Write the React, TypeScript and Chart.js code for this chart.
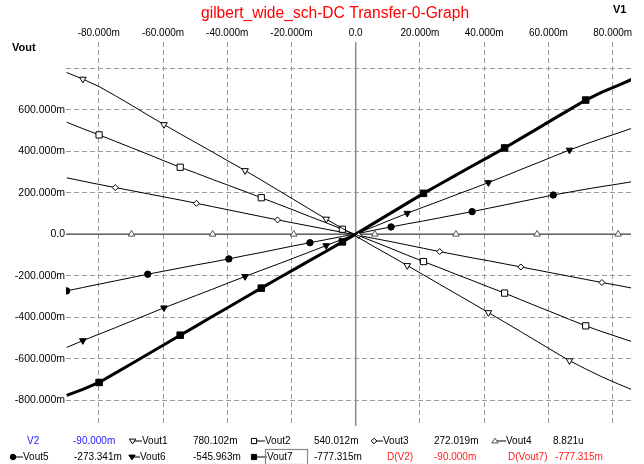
import React, { useEffect, useRef } from 'react';
import { Chart, registerables } from 'chart.js';

Chart.register(...registerables);

const TITLE = 'gilbert_wide_sch-DC Transfer-0-Graph';
const X_AXIS_NAME = 'V1';
const Y_AXIS_NAME = 'Vout';
const SWEEP_NAME = 'V2';

// sweep values (mV)
const V2 = [
  -90, -84.95, -79.9, -74.85, -69.8, -64.75, -59.7, -54.65, -49.6, -44.55,
  -39.5, -34.45, -29.4, -24.35, -19.3, -14.25, -9.2, -4.15, 0.9, 5.95,
  11, 16.05, 21.1, 26.15, 31.2, 36.25, 41.3, 46.35, 51.4, 56.45,
  61.5, 66.55, 71.6, 76.65, 81.7, 86,
];

// outputs (mV)
const VOUT1 = [
  780.102, 748, 712, 668, 622, 575, 529, 484, 440, 396,
  351, 307, 261, 214, 167, 120, 73, 28, -17, -62,
  -106, -151, -196, -242, -287, -332, -378, -424, -470, -517,
  -564, -610, -650, -688, -722, -750,
];
const VOUT2 = [
  540.012, 509, 479, 448, 417, 386, 354, 323, 294, 264,
  235, 206, 176, 146, 116, 85, 55, 24, -7, -38,
  -69, -101, -132, -162, -193, -223, -254, -284, -316, -348,
  -379, -411, -442, -470, -496, -518,
];
const VOUT3 = [
  272.019, 256, 240, 225, 210, 195, 180, 165, 149, 133,
  117, 101, 85, 69, 54, 39, 24, 9, -6, -21,
  -36, -52, -68, -84, -99, -114, -128, -143, -158, -173,
  -188, -203, -218, -233, -247, -260,
];
const VOUT4 = [
  0.008821, 0.0085, 0.008, 0.0075, 0.007, 0.0065, 0.006, 0.0055, 0.005, 0.0045,
  0.004, 0.0035, 0.003, 0.0025, 0.002, 0.0015, 0.001, 0.0005, 0, -0.0005,
  -0.001, -0.0015, -0.002, -0.0025, -0.003, -0.0035, -0.004, -0.0045, -0.005, -0.0055,
  -0.006, -0.0065, -0.007, -0.0075, -0.008, -0.0085,
];
const VOUT5 = [
  -273.341, -257, -241, -225, -209, -193, -178, -163, -148, -134,
  -119, -103, -88, -72, -56, -41, -26, -11, 4, 20,
  35, 50, 64, 79, 94, 109, 125, 141, 157, 173,
  189, 203, 217, 230, 242, 253,
];
const VOUT6 = [
  -545.963, -513, -482, -451, -419, -387, -355, -325, -295, -265,
  -234, -204, -174, -145, -115, -85, -55, -24, 7, 38,
  70, 101, 131, 160, 190, 219, 249, 280, 312, 343,
  375, 406, 435, 462, 488, 511,
];
const VOUT7 = [
  -777.315, -748, -715, -670, -625, -579, -533, -487, -442, -396,
  -351, -305, -260, -215, -171, -126, -82, -37, 9, 56,
  103, 150, 197, 241, 285, 329, 372, 416, 462, 508,
  555, 601, 647, 685, 718, 747,
];

const SERIES_NAMES = ['Vout1', 'Vout2', 'Vout3', 'Vout4', 'Vout5', 'Vout6', 'Vout7'];
const SERIES_VALUES = [VOUT1, VOUT2, VOUT3, VOUT4, VOUT5, VOUT6, VOUT7];

const X_TICKS = [-80, -60, -40, -20, 0, 20, 40, 60, 80];
const X_TICK_LABELS = ['-80.000m', '-60.000m', '-40.000m', '-20.000m', '0.0', '20.000m', '40.000m', '60.000m', '80.000m'];
const Y_TICKS = [-800, -600, -400, -200, 0, 200, 400, 600, 800];
const Y_TICK_LABELS = ['-800.000m', '-600.000m', '-400.000m', '-200.000m', '0.0', '200.000m', '400.000m', '600.000m', ''];

// marker styling per series
type MStyle = { shape: string; rot: number; filled: boolean; r: number; offset: number; width: number; color: string };
const STYLES: MStyle[] = [
  { shape: 'triangle', rot: 180, filled: false, r: 3.8, offset: 1, width: 1, color: '#000' },
  { shape: 'rect', rot: 0, filled: false, r: 4.4, offset: 2, width: 1, color: '#000' },
  { shape: 'rectRot', rot: 0, filled: false, r: 3, offset: 3, width: 1, color: '#000' },
  { shape: 'triangle', rot: 0, filled: false, r: 3.8, offset: 4, width: 1, color: '#555' },
  { shape: 'circle', rot: 0, filled: true, r: 3.2, offset: 0, width: 1, color: '#000' },
  { shape: 'triangle', rot: 180, filled: true, r: 3.8, offset: 1, width: 1, color: '#000' },
  { shape: 'rect', rot: 0, filled: true, r: 4.6, offset: 2, width: 3, color: '#000' },
];

const FONT = '"Liberation Sans", Arial, Helvetica, sans-serif';

const fmt = (v: number) => (Math.abs(v) >= 1 ? v.toFixed(3) + 'm' : (v * 1000).toFixed(3) + 'u');

function drawMarker(ctx: CanvasRenderingContext2D, s: MStyle, x: number, y: number) {
  ctx.save();
  ctx.beginPath();
  const r = 3.2;
  if (s.shape === 'triangle') {
    const dir = s.rot === 180 ? 1 : -1;
    ctx.moveTo(x - r, y - dir * r * 0.6);
    ctx.lineTo(x + r, y - dir * r * 0.6);
    ctx.lineTo(x, y + dir * r * 0.9);
    ctx.closePath();
  } else if (s.shape === 'rect') {
    ctx.rect(x - 2.6, y - 2.6, 5.2, 5.2);
  } else if (s.shape === 'rectRot') {
    ctx.moveTo(x - 2.8, y);
    ctx.lineTo(x, y - 2.8);
    ctx.lineTo(x + 2.8, y);
    ctx.lineTo(x, y + 2.8);
    ctx.closePath();
  } else {
    ctx.arc(x, y, 2.8, 0, Math.PI * 2);
  }
  ctx.fillStyle = s.filled ? '#000' : '#fff';
  ctx.fill();
  ctx.strokeStyle = s.color;
  ctx.lineWidth = 1;
  ctx.stroke();
  ctx.restore();
}

const overlayPlugin = {
  id: 'overlay',
  beforeDatasetsDraw(chart: any) {
    const { ctx, chartArea: a, scales } = chart;
    const x0 = scales.x.getPixelForValue(0);
    const y0 = scales.y.getPixelForValue(0);
    ctx.save();
    ctx.strokeStyle = '#8a8a8a';
    ctx.lineWidth = 1.5;
    ctx.beginPath();
    ctx.moveTo(x0, a.top);
    ctx.lineTo(x0, a.bottom);
    ctx.moveTo(a.left, y0);
    ctx.lineTo(a.right, y0);
    ctx.stroke();
    ctx.restore();
  },
  afterDraw(chart: any) {
    const ctx: CanvasRenderingContext2D = chart.ctx;
    ctx.save();
    ctx.textBaseline = 'middle';
    // title
    ctx.fillStyle = '#ff0000';
    ctx.font = `15.6px ${FONT}`;
    ctx.textAlign = 'left';
    ctx.fillText(TITLE, 201, 14);
    // axis names
    ctx.fillStyle = '#000';
    ctx.font = `bold 11px ${FONT}`;
    ctx.fillText(X_AXIS_NAME, 613, 10);
    ctx.fillText(Y_AXIS_NAME, 12, 48);

    // legend / cursor readout
    ctx.font = `10px ${FONT}`;
    const blue = '#1a1aff';
    const red = '#ff1a1a';
    const row1 = 441;
    const row2 = 457;
    ctx.fillStyle = blue;
    ctx.fillText(SWEEP_NAME, 27, row1);
    ctx.fillText(fmt(V2[0]), 73, row1);

    const slots = [
      { m: 132.5, t: 142, v: 193, y: row1 },
      { m: 254, t: 265, v: 314, y: row1 },
      { m: 374, t: 383, v: 434, y: row1 },
      { m: 495, t: 506, v: 553, y: row1 },
      { m: 13, t: 23, v: 74, y: row2 },
      { m: 132, t: 140, v: 193, y: row2 },
      { m: 254, t: 267, v: 314, y: row2 },
    ];
    slots.forEach((sl, i) => {
      ctx.strokeStyle = '#000';
      ctx.lineWidth = 1;
      ctx.beginPath();
      ctx.moveTo(sl.m, sl.y);
      ctx.lineTo(sl.t, sl.y);
      ctx.stroke();
      drawMarker(ctx, STYLES[i], sl.m, sl.y);
      ctx.fillStyle = '#000';
      ctx.fillText(SERIES_NAMES[i], sl.t, sl.y);
      ctx.fillText(fmt(SERIES_VALUES[i][0]), sl.v, sl.y);
    });
    // selected trace box
    ctx.strokeStyle = '#8a8a8a';
    ctx.lineWidth = 1.2;
    ctx.strokeRect(265.5, 449.5, 42, 15);

    ctx.fillStyle = red;
    ctx.fillText(`D(${SWEEP_NAME})`, 387, row2);
    ctx.fillText(fmt(V2[0]), 434, row2);
    ctx.fillText(`D(${SERIES_NAMES[6]})`, 508, row2);
    ctx.fillText(fmt(VOUT7[0]), 555, row2);
    ctx.restore();
  },
};

export default function App() {
  const ref = useRef<HTMLCanvasElement | null>(null);

  useEffect(() => {
    document.body.style.margin = '0';
    const canvas = ref.current;
    if (!canvas) return;

    const datasets = SERIES_VALUES.map((vals, i) => {
      const s = STYLES[i];
      return {
        label: SERIES_NAMES[i],
        data: vals.map((v, k) => ({ x: V2[k], y: v })),
        borderColor: s.color === '#555' ? '#555' : '#000',
        borderWidth: s.width,
        backgroundColor: s.filled ? '#000' : '#fff',
        pointBackgroundColor: s.filled ? '#000' : '#fff',
        pointBorderColor: s.color,
        pointBorderWidth: 1,
        pointStyle: s.shape,
        pointRotation: s.rot,
        pointRadius: (c: any) => (c.dataIndex % 5 === s.offset && c.dataIndex <= 34 ? s.r : 0),
        tension: 0,
        fill: false,
      };
    });

    const gridColor = (c: any) => (c.tick && c.tick.value === 0 ? 'rgba(0,0,0,0)' : '#9a9a9a');

    const chart = new Chart(canvas, {
      type: 'line',
      data: { datasets: datasets as any },
      plugins: [overlayPlugin as any],
      options: {
        animation: false,
        responsive: false,
        events: [],
        layout: { padding: { left: 0, top: 0, right: 13, bottom: 38 } },
        plugins: { legend: { display: false }, title: { display: false }, tooltip: { enabled: false } },
        scales: {
          x: {
            type: 'linear',
            position: 'top',
            min: -90.2,
            max: 85.7,
            afterBuildTicks: (sc: any) => {
              sc.ticks = X_TICKS.map((v) => ({ value: v }));
            },
            afterFit: (sc: any) => {
              sc.height = 42;
            },
            ticks: {
              autoSkip: false,
              maxRotation: 0,
              padding: 3,
              color: '#000',
              font: { family: FONT, size: 10 },
              callback: (_v: any, i: number) => X_TICK_LABELS[i],
            },
            grid: { color: gridColor, lineWidth: 1, drawTicks: false },
            border: { display: false, dash: [5, 3] },
          },
          y: {
            type: 'linear',
            position: 'left',
            min: -925,
            max: 927,
            afterBuildTicks: (sc: any) => {
              sc.ticks = Y_TICKS.map((v) => ({ value: v }));
            },
            afterFit: (sc: any) => {
              sc.width = 66;
            },
            ticks: {
              autoSkip: false,
              padding: 1,
              color: '#000',
              font: { family: FONT, size: 10.5 },
              callback: (_v: any, i: number) => Y_TICK_LABELS[i],
            },
            grid: { color: gridColor, lineWidth: 1, drawTicks: false },
            border: { display: false, dash: [5, 3] },
          },
        },
      } as any,
    });
    return () => chart.destroy();
  }, []);

  return (
    <div style={{ width: 644, height: 464, background: '#fff' }}>
      <canvas ref={ref} width={644} height={464} style={{ display: 'block' }} />
    </div>
  );
}
